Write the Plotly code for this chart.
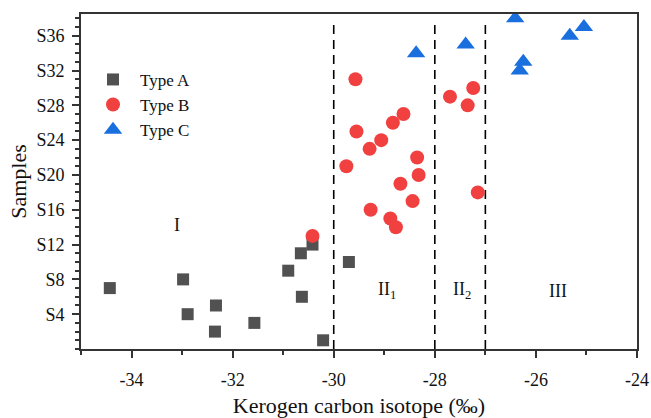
import plotly.graph_objects as go

# Kerogen carbon isotope (‰) per sample, grouped by kerogen type
type_a_samples = [1, 2, 3, 4, 5, 6, 7, 8, 9, 10, 11, 12]
type_a_isotope = [-30.21, -32.35, -31.57, -32.89, -32.33, -30.63, -34.43, -32.98,
                  -30.90, -29.70, -30.65, -30.42]

type_b_samples = [13, 14, 15, 16, 17, 18, 19, 20, 21, 22, 23, 24, 25, 26, 27,
                  28, 29, 30, 31]
type_b_isotope = [-30.42, -28.77, -28.88, -29.27, -28.44, -27.15, -28.68, -28.32,
                  -29.75, -28.35, -29.29, -29.06, -29.55, -28.83, -28.62, -27.35,
                  -27.70, -27.24, -29.57]

type_c_samples = [32, 33, 34, 35, 36, 37, 38]
type_c_isotope = [-26.32, -26.25, -28.37, -27.39, -25.33, -25.05, -26.41]

# Kerogen classification boundaries and zone labels
boundaries = [-30, -28, -27]
zone_labels = ["I", "II<sub>1</sub>", "II<sub>2</sub>", "III"]
zone_x = [-33.11, -28.94, -27.47, -25.56]
zone_y = [14.2, 6.7, 6.7, 6.7]

y_tick_vals = [4, 8, 12, 16, 20, 24, 28, 32, 36]
y_tick_text = ["S4", "S8", "S12", "S16", "S20", "S24", "S28", "S32", "S36"]

FONT = "Liberation Serif"
TEXT_COLOR = "#111111"
AXIS_COLOR = "#333333"

fig = go.Figure()
fig.add_trace(go.Scatter(
    x=type_a_isotope, y=type_a_samples, mode="markers", name="Type A",
    marker=dict(symbol="square", size=12, color="#515151", line=dict(width=0)),
))
fig.add_trace(go.Scatter(
    x=type_b_isotope, y=type_b_samples, mode="markers", name="Type B",
    marker=dict(symbol="circle", size=14, color="#F14040", line=dict(width=0)),
))
fig.add_trace(go.Scatter(
    x=type_c_isotope, y=type_c_samples, mode="markers", name="Type C",
    marker=dict(symbol="triangle-up", size=16, color="#1A6FDF", line=dict(width=0)),
))

for bx in boundaries:
    fig.add_shape(type="line", xref="x", yref="paper", x0=bx, x1=bx, y0=0, y1=0.975,
                  line=dict(color="black", width=1.6, dash="9px,6px"), layer="below")

for txt, zx, zy in zip(zone_labels, zone_x, zone_y):
    fig.add_annotation(x=zx, y=zy, text=txt, showarrow=False,
                       font=dict(family=FONT, size=18, color=TEXT_COLOR),
                       xanchor="center", yanchor="middle")

fig.update_layout(
    width=651, height=418,
    margin=dict(l=81, r=14, t=14, b=69),
    paper_bgcolor="white", plot_bgcolor="white",
    font=dict(family=FONT, size=18, color=TEXT_COLOR),
    showlegend=True,
    legend=dict(x=0.009, y=0.857, xanchor="left", yanchor="top",
                bgcolor="rgba(0,0,0,0)", borderwidth=0, itemwidth=44,
                font=dict(family=FONT, size=17, color=TEXT_COLOR),
                tracegroupgap=0, itemsizing="trace"),
)

fig.update_xaxes(
    range=[-35, -24], tickvals=[-34, -32, -30, -28, -26, -24],
    ticktext=["-34", "-32", "-30", "-28", "-26", "-24"],
    showgrid=False, zeroline=False, automargin=False,
    showline=True, linecolor=AXIS_COLOR, linewidth=2, mirror=True,
    ticks="outside", ticklen=7, tickwidth=1.5, tickcolor=AXIS_COLOR,
    minor=dict(dtick=1, tick0=-35, ticks="outside", ticklen=4, tickwidth=1.5,
               tickcolor=AXIS_COLOR, showgrid=False),
    ticklabelstandoff=6,
    tickfont=dict(family=FONT, size=18, color=TEXT_COLOR),
    title=dict(text="Kerogen carbon isotope (‰)", standoff=16,
               font=dict(family=FONT, size=22, color=TEXT_COLOR)),
)

fig.update_yaxes(
    range=[0, 38.5], tickvals=y_tick_vals, ticktext=y_tick_text,
    showgrid=False, zeroline=False, automargin=False,
    showline=True, linecolor=AXIS_COLOR, linewidth=2, mirror=True,
    ticks="outside", ticklen=7, tickwidth=1.5, tickcolor=AXIS_COLOR,
    minor=dict(dtick=1, tick0=0, ticks="outside", ticklen=4, tickwidth=1.5,
               tickcolor=AXIS_COLOR, showgrid=False),
    ticklabelstandoff=4,
    tickfont=dict(family=FONT, size=18, color=TEXT_COLOR),
    title=dict(text="Samples", standoff=4,
               font=dict(family=FONT, size=22, color=TEXT_COLOR)),
)

fig.write_html("out.html")
